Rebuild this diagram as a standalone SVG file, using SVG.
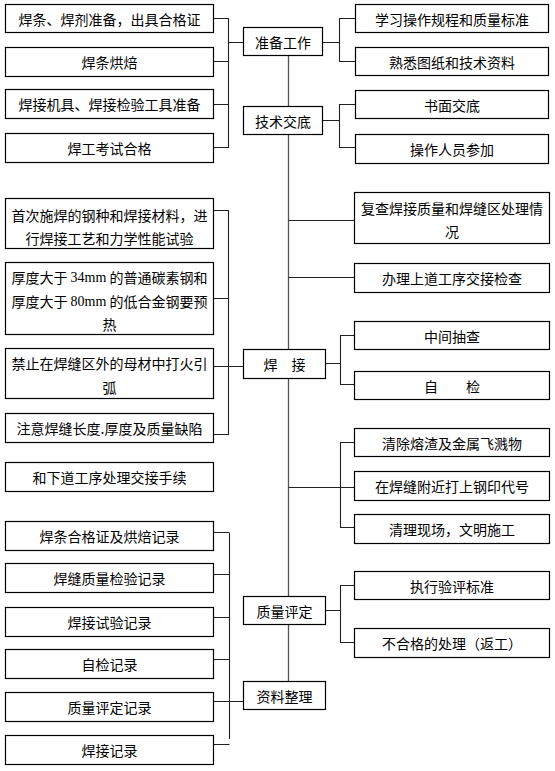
<svg xmlns="http://www.w3.org/2000/svg" width="555" height="771" viewBox="0 0 555 771">
<style>
rect{fill:#fff;stroke:#000;stroke-width:1.2}
text{font-family:"Noto Sans CJK SC","Noto Sans",sans-serif;font-size:14px;fill:#000;text-anchor:middle;dominant-baseline:central}
.l{stroke:#222;stroke-width:1.1;fill:none}
.c{stroke:#555;stroke-width:1.3;fill:none}
.s{font-family:"Liberation Serif",serif}
</style>
<rect x="0" y="0" width="555" height="771" style="stroke:none"/>
<g id="connectors">
<path class="l" d="M213 18.5H228.5M213 61.5H228.5M213 104.5H228.5M213 147.5H228.5M228.5 18V148M228.5 42.5H243"/>
<path class="l" d="M322 42.5H339.5M339.5 18V62M339.5 18.5H355M339.5 61.5H355"/>
<path class="l" d="M322 120.5H339.5M339.5 104V148M339.5 104.5H355M339.5 147.5H355"/>
<path class="c" d="M288.5 55V106M288.5 134V349M288.5 378V596M288.5 624V681"/>
<path class="l" d="M288.5 220.5H354M288.5 277.5H354"/>
<path class="l" d="M326 363.5H340.5M340.5 335V385M340.5 335.5H354M340.5 384.5H354"/>
<path class="l" d="M340.5 442V528M340.5 442.5H354M340.5 527.5H354M288.5 487.5H354"/>
<path class="l" d="M213 210.5H228.5M213 298.5H228.5M213 434.5H228.5M228.5 210V435M213 366.5H243"/>
<path class="l" d="M326 610.5H340.5M340.5 585V643M340.5 585.5H354M340.5 642.5H354"/>
<path class="l" d="M213 532.5H229.5M229.5 533V739M213 574.5H229.5M213 617.5H229.5M213 659.5H229.5M213 701.5H243M213 744.5H229.5"/>
</g>
<g id="L1"><rect x="5.5" y="4.5" width="208" height="28"/><text x="109.5" y="18.5">焊条、焊剂准备，出具合格证</text></g>
<g id="L2"><rect x="5.5" y="47.5" width="208" height="29"/><text x="109.5" y="62">焊条烘焙</text></g>
<g id="L3"><rect x="5.5" y="89.5" width="208" height="29"/><text x="109.5" y="104">焊接机具、焊接检验工具准备</text></g>
<g id="L4"><rect x="5.5" y="133.5" width="208" height="29"/><text x="109.5" y="148">焊工考试合格</text></g>
<g id="L5"><rect x="5.5" y="198.5" width="208" height="50"/><text x="109.5" y="215">首次施焊的钢种和焊接材料，进</text><text x="109.5" y="238">行焊接工艺和力学性能试验</text></g>
<g id="L6"><rect x="5.5" y="262.5" width="208" height="72"/><text x="109.5" y="277">厚度大于 <tspan class="s">34mm</tspan> 的普通碳素钢和</text><text x="109.5" y="301">厚度大于 <tspan class="s">80mm</tspan> 的低合金钢要预</text><text x="109.5" y="324">热</text></g>
<g id="L7"><rect x="5.5" y="348.5" width="208" height="50"/><text x="109.5" y="363">禁止在焊缝区外的母材中打火引</text><text x="109.5" y="387">弧</text></g>
<g id="L8"><rect x="5.5" y="413.5" width="208" height="29"/><text x="109.5" y="428">注意焊缝长度.厚度及质量缺陷</text></g>
<g id="L9"><rect x="5.5" y="462.5" width="208" height="29"/><text x="109.5" y="477">和下道工序处理交接手续</text></g>
<g id="L10"><rect x="5.5" y="521.5" width="208" height="29"/><text x="109.5" y="536">焊条合格证及烘焙记录</text></g>
<g id="L11"><rect x="5.5" y="563.5" width="208" height="29"/><text x="109.5" y="578">焊缝质量检验记录</text></g>
<g id="L12"><rect x="5.5" y="607.5" width="208" height="29"/><text x="109.5" y="622">焊接试验记录</text></g>
<g id="L13"><rect x="5.5" y="649.5" width="208" height="29"/><text x="109.5" y="664">自检记录</text></g>
<g id="L14"><rect x="5.5" y="692.5" width="208" height="29"/><text x="109.5" y="707">质量评定记录</text></g>
<g id="L15"><rect x="5.5" y="735.5" width="208" height="29"/><text x="109.5" y="750">焊接记录</text></g>
<g id="C1"><rect x="243.5" y="27.5" width="79" height="28"/><text x="283" y="41.5">准备工作</text></g>
<g id="C2"><rect x="243.5" y="106.5" width="79" height="28"/><text x="283" y="120.5">技术交底</text></g>
<g id="C3"><rect x="243.5" y="349.5" width="82" height="29"/><text x="284.5" y="364">焊　接</text></g>
<g id="C4"><rect x="243.5" y="596.5" width="82" height="28"/><text x="284.5" y="610.5">质量评定</text></g>
<g id="C5"><rect x="243.5" y="681.5" width="82" height="28"/><text x="284.5" y="695.5">资料整理</text></g>
<g id="R1"><rect x="355.5" y="4.5" width="193" height="28"/><text x="452" y="18.5">学习操作规程和质量标准</text></g>
<g id="R2"><rect x="355.5" y="47.5" width="193" height="28"/><text x="452" y="61.5">熟悉图纸和技术资料</text></g>
<g id="R3"><rect x="355.5" y="90.5" width="193" height="28"/><text x="452" y="104.5">书面交底</text></g>
<g id="R4"><rect x="355.5" y="134.5" width="193" height="29"/><text x="452" y="149">操作人员参加</text></g>
<g id="R5"><rect x="354.5" y="192.5" width="195" height="51"/><text x="452" y="208">复查焊接质量和焊缝区处理情</text><text x="452" y="231">况</text></g>
<g id="R6"><rect x="354.5" y="263.5" width="195" height="29"/><text x="452" y="278">办理上道工序交接检查</text></g>
<g id="R7"><rect x="354.5" y="321.5" width="195" height="28"/><text x="452" y="335.5">中间抽查</text></g>
<g id="R8"><rect x="354.5" y="371.5" width="195" height="28"/><text x="452" y="385.5">自　　检</text></g>
<g id="R9"><rect x="354.5" y="428.5" width="195" height="28"/><text x="452" y="442.5">清除熔渣及金属飞溅物</text></g>
<g id="R10"><rect x="354.5" y="471.5" width="195" height="29"/><text x="452" y="486">在焊缝附近打上钢印代号</text></g>
<g id="R11"><rect x="354.5" y="514.5" width="195" height="29"/><text x="452" y="529">清理现场，文明施工</text></g>
<g id="R12"><rect x="354.5" y="571.5" width="195" height="28"/><text x="452" y="585.5">执行验评标准</text></g>
<g id="R13"><rect x="354.5" y="628.5" width="195" height="29"/><text x="452" y="643">不合格的处理（返工）</text></g>
</svg>
